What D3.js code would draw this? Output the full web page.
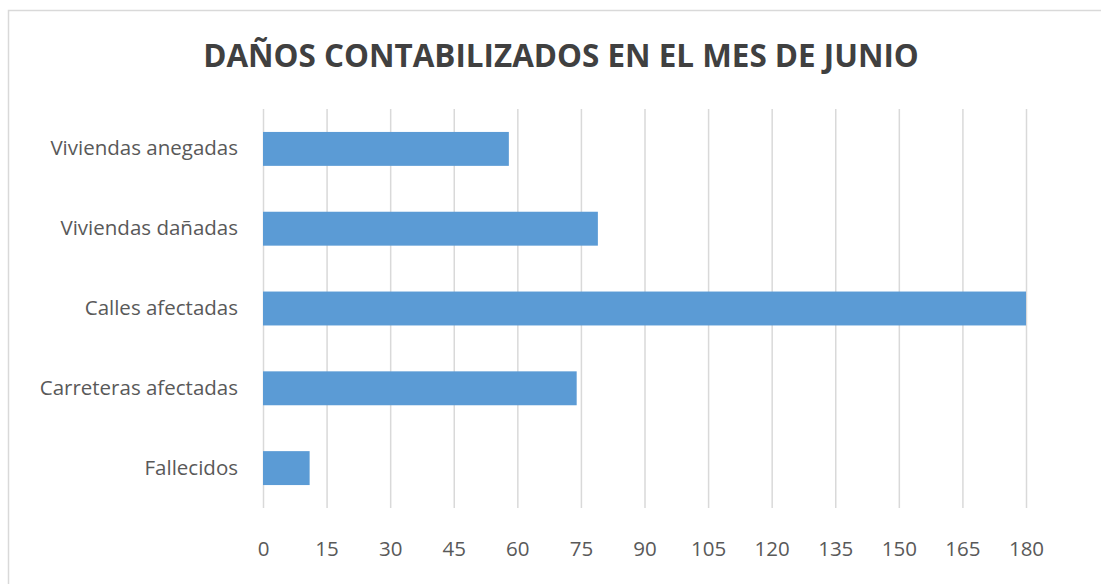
<!DOCTYPE html>
<html>
<head>
<meta charset="utf-8">
<script src="https://cdn.jsdelivr.net/npm/d3@7"></script>
<style>
  body { margin: 0; background: #fff; }
  svg { display: block; }
</style>
</head>
<body>
<div id="chart"></div>
<script>
// data
const categories = ["Viviendas anegadas", "Viviendas dañadas", "Calles afectadas", "Carreteras afectadas", "Fallecidos"];
const values = [58, 79, 180, 74, 11];
const tickValues = [0, 15, 30, 45, 60, 75, 90, 105, 120, 135, 150, 165, 180];
const title = "DAÑOS CONTABILIZADOS EN EL MES DE JUNIO";

const width = 1101, height = 584;
const margin = {top: 109, left: 263, right: 1101 - 1026, bottom: 584 - 508};
const font = "'Open Sans', sans-serif";

const svg = d3.select('#chart').append('svg')
    .attr('width', width)
    .attr('height', height);

// chart frame
svg.append('rect')
    .attr('x', 8.5).attr('y', 10.5)
    .attr('width', 1200).attr('height', 700)
    .attr('fill', '#fff')
    .attr('stroke', '#d9d9d9')
    .attr('stroke-width', 1.5);

svg.append('text')
    .attr('x', 561).attr('y', 67)
    .attr('text-anchor', 'middle')
    .attr('font-family', font)
    .attr('font-weight', 'bold')
    .attr('font-size', 31.4)
    .attr('fill', '#404040')
    .text(title);

const x = d3.scaleLinear()
    .domain([0, 180])
    .range([margin.left, width - margin.right]);

const y = d3.scaleBand()
    .domain(categories)
    .range([margin.top, height - margin.bottom])
    .paddingInner(0.575)
    .paddingOuter(0.2875);

// gridlines
const grid = svg.append('g')
    .attr('transform', `translate(0,${margin.top})`)
    .call(d3.axisBottom(x).tickValues(tickValues).tickSize(height - margin.bottom - margin.top).tickFormat(''));
grid.select('.domain').remove();
grid.selectAll('line').attr('stroke', '#d9d9d9').attr('stroke-width', 1.5);

// bars
svg.append('g')
    .selectAll('rect')
    .data(values)
    .join('rect')
    .attr('x', x(0))
    .attr('y', (d, i) => y(categories[i]))
    .attr('width', d => x(d) - x(0))
    .attr('height', y.bandwidth())
    .attr('fill', '#5b9bd5');

// x axis labels
const xAxis = svg.append('g')
    .attr('transform', `translate(0,${height - margin.bottom})`)
    .call(d3.axisBottom(x).tickValues(tickValues).tickSize(0).tickPadding(33));
xAxis.select('.domain').remove();
xAxis.selectAll('text')
    .attr('font-family', font)
    .attr('font-size', 20.5)
    .attr('fill', '#595959');

// y axis labels
const yAxis = svg.append('g')
    .attr('transform', `translate(${margin.left},0)`)
    .call(d3.axisLeft(y).tickSize(0).tickPadding(25));
yAxis.select('.domain').remove();
yAxis.selectAll('text')
    .attr('font-family', font)
    .attr('font-size', 20.5)
    .attr('fill', '#595959');
</script>
</body>
</html>
